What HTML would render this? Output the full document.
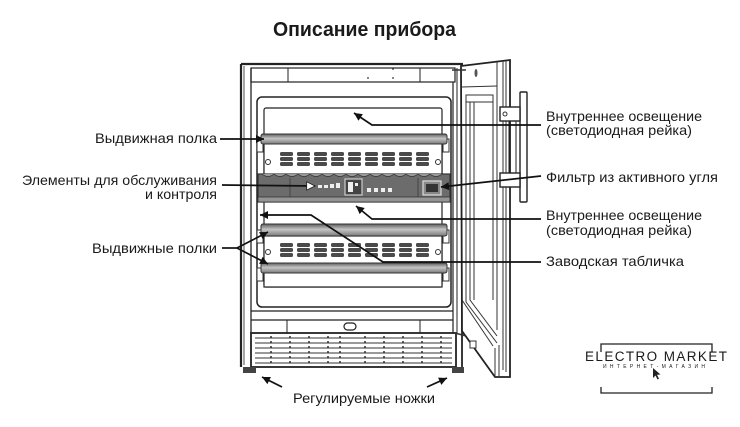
<!DOCTYPE html>
<html><head><meta charset="utf-8"><style>
html,body{margin:0;padding:0;background:#fff;}
svg{display:block;}
text{font-family:"Liberation Sans","DejaVu Sans",sans-serif;fill:#1a1a1a;}
</style></head><body>
<svg width="740" height="427" viewBox="0 0 740 427" xmlns="http://www.w3.org/2000/svg">
<defs>
<linearGradient id="bar" x1="0" y1="0" x2="0" y2="1">
<stop offset="0" stop-color="#5e5e5e"/><stop offset="0.45" stop-color="#c4c4c4"/><stop offset="1" stop-color="#7a7a7a"/>
</linearGradient>
<marker id="a" viewBox="0 0 10 10" refX="10" refY="5" markerWidth="11" markerHeight="8" markerUnits="userSpaceOnUse" orient="auto">
<path d="M0,0 L10,5 L0,10 z" fill="#111"/></marker>
<marker id="w" viewBox="0 0 12 12" refX="11" refY="6" markerWidth="12" markerHeight="10" markerUnits="userSpaceOnUse" orient="auto">
<path d="M1,1 L11,6 L1,11 z" fill="#fff" stroke="#222" stroke-width="1"/></marker>
<g id="vents" fill="#4a4a4a">
<rect x="280" y="152" width="13" height="4" rx="1.5"/><rect x="280" y="157" width="13" height="4" rx="1.5"/><rect x="280" y="162" width="13" height="4" rx="1.5"/>
<rect x="297" y="152" width="13" height="4" rx="1.5"/><rect x="297" y="157" width="13" height="4" rx="1.5"/><rect x="297" y="162" width="13" height="4" rx="1.5"/>
<rect x="314" y="152" width="13" height="4" rx="1.5"/><rect x="314" y="157" width="13" height="4" rx="1.5"/><rect x="314" y="162" width="13" height="4" rx="1.5"/>
<rect x="331" y="152" width="13" height="4" rx="1.5"/><rect x="331" y="157" width="13" height="4" rx="1.5"/><rect x="331" y="162" width="13" height="4" rx="1.5"/>
<rect x="348" y="152" width="13" height="4" rx="1.5"/><rect x="348" y="157" width="13" height="4" rx="1.5"/><rect x="348" y="162" width="13" height="4" rx="1.5"/>
<rect x="365" y="152" width="13" height="4" rx="1.5"/><rect x="365" y="157" width="13" height="4" rx="1.5"/><rect x="365" y="162" width="13" height="4" rx="1.5"/>
<rect x="382" y="152" width="13" height="4" rx="1.5"/><rect x="382" y="157" width="13" height="4" rx="1.5"/><rect x="382" y="162" width="13" height="4" rx="1.5"/>
<rect x="399" y="152" width="13" height="4" rx="1.5"/><rect x="399" y="157" width="13" height="4" rx="1.5"/><rect x="399" y="162" width="13" height="4" rx="1.5"/>
<rect x="416" y="152" width="13" height="4" rx="1.5"/><rect x="416" y="157" width="13" height="4" rx="1.5"/><rect x="416" y="162" width="13" height="4" rx="1.5"/>
</g>
</defs>
<rect width="740" height="427" fill="#fff"/>

<text x="273" y="36" font-size="20" font-weight="bold" textLength="183" lengthAdjust="spacingAndGlyphs">Описание прибора</text>

<g fill="none" stroke="#222">
<line x1="241" y1="64" x2="463" y2="64" stroke-width="2.2"/>
<line x1="241" y1="64" x2="241" y2="367" stroke-width="2.2"/>
<line x1="244" y1="66" x2="244" y2="365" stroke-width="0.8"/>
<line x1="251" y1="68" x2="251" y2="333" stroke-width="1.3"/>
<rect x="251" y="68" width="204" height="14" stroke-width="1.2"/>
<line x1="288" y1="68" x2="288" y2="82" stroke-width="1"/>
<line x1="420" y1="68" x2="420" y2="82" stroke-width="1"/>
<line x1="453" y1="82" x2="453" y2="333" stroke-width="1.2"/>
<line x1="457" y1="68" x2="457" y2="333" stroke-width="1"/>
<line x1="462" y1="64" x2="462" y2="367" stroke-width="1.8"/>
<rect x="257" y="97" width="194" height="210" rx="5" stroke-width="1.5"/>
<rect x="264" y="108" width="178" height="179" rx="2" stroke-width="1.2"/>
<line x1="251" y1="311" x2="453" y2="311" stroke-width="1.2"/>
<line x1="251" y1="320" x2="453" y2="320" stroke-width="1.2"/>
<line x1="287" y1="320" x2="287" y2="333" stroke-width="1"/>
<line x1="420" y1="320" x2="420" y2="333" stroke-width="1"/>
<rect x="344" y="323" width="12" height="7" rx="3.5" stroke-width="1.2"/>
</g>
<g fill="#333"><circle cx="368" cy="78" r="0.9"/><circle cx="393" cy="69" r="0.9"/><circle cx="393" cy="78" r="0.9"/></g>

<rect x="264" y="143" width="178" height="32" fill="#fff" stroke="#222" stroke-width="1.2"/>
<use href="#vents"/>
<circle cx="268" cy="162" r="2.5" fill="#fff" stroke="#333"/>
<circle cx="438" cy="162" r="2.5" fill="#fff" stroke="#333"/>
<rect x="257" y="139" width="6" height="13" fill="#fff" stroke="#333"/>
<rect x="443" y="139" width="6" height="13" fill="#fff" stroke="#333"/>
<rect x="261" y="134" width="186" height="10" rx="2" fill="url(#bar)" stroke="#333" stroke-width="1"/>

<rect x="258" y="174" width="192" height="28" fill="#6c6c6c" stroke="#333" stroke-width="1.2"/>
<path d="M262,174 q6,5 12,0 q6,5 12,0 q6,5 12,0 q6,5 12,0 q6,5 12,0 q6,5 12,0 q6,5 12,0 q6,5 12,0 q6,5 12,0 q6,5 12,0 q6,5 12,0 q6,5 12,0 q6,5 12,0 q6,5 12,0 q6,5 12,0" fill="#999" stroke="#333" stroke-width="0.8"/>
<rect x="258" y="197" width="192" height="5" fill="#959595" stroke="#333" stroke-width="0.8"/>
<line x1="290" y1="178" x2="290" y2="197" stroke="#444"/>
<line x1="418" y1="178" x2="418" y2="197" stroke="#444"/>
<g fill="#eee"><rect x="318" y="185" width="4" height="3"/><rect x="324" y="185" width="4" height="3"/><rect x="330" y="184" width="4" height="4"/><rect x="336" y="183" width="4" height="5"/>
<rect x="367" y="188" width="4" height="4"/><rect x="374" y="188" width="4" height="4"/><rect x="381" y="188" width="4" height="4"/><rect x="388" y="188" width="4" height="4"/></g>
<rect x="345" y="179" width="17" height="16" fill="#444" stroke="#ccc" stroke-width="1.2"/>
<rect x="348" y="182" width="5" height="10" fill="#eee"/><rect x="355" y="183" width="3" height="3" fill="#eee"/>
<rect x="423" y="181" width="18" height="14" fill="#888" stroke="#ddd" stroke-width="1.2"/>
<rect x="426" y="184" width="12" height="8" fill="#333"/>

<rect x="264" y="236" width="178" height="28" fill="#fff" stroke="#222" stroke-width="1.2"/>
<use href="#vents" y="91"/>
<circle cx="268" cy="252" r="2.5" fill="#fff" stroke="#333"/>
<circle cx="438" cy="252" r="2.5" fill="#fff" stroke="#333"/>
<rect x="257" y="230" width="6" height="13" fill="#fff" stroke="#333"/>
<rect x="443" y="230" width="6" height="13" fill="#fff" stroke="#333"/>
<rect x="261" y="224" width="186" height="12" rx="2" fill="url(#bar)" stroke="#333" stroke-width="1"/>
<rect x="264" y="272" width="178" height="15" fill="#fff" stroke="#222" stroke-width="1.2"/>
<rect x="257" y="268" width="6" height="13" fill="#fff" stroke="#333"/>
<rect x="443" y="268" width="6" height="13" fill="#fff" stroke="#333"/>
<rect x="261" y="263" width="186" height="10" rx="2" fill="url(#bar)" stroke="#333" stroke-width="1"/>

<rect x="251" y="333" width="205" height="34" fill="#fff" stroke="#222" stroke-width="1.8"/>
<g stroke="#333" stroke-width="1">
<line x1="255" y1="338" x2="452" y2="338"/><line x1="255" y1="343" x2="452" y2="343"/><line x1="255" y1="348" x2="452" y2="348"/>
<line x1="255" y1="353" x2="452" y2="353"/><line x1="255" y1="358" x2="452" y2="358"/><line x1="255" y1="363" x2="452" y2="363"/>
</g>
<g stroke="#222" stroke-width="1.4" stroke-dasharray="2,3">
<line x1="271" y1="336" x2="271" y2="365"/><line x1="290" y1="336" x2="290" y2="365"/><line x1="309" y1="336" x2="309" y2="365"/>
<line x1="328" y1="336" x2="328" y2="365"/><line x1="340" y1="336" x2="340" y2="365"/><line x1="365" y1="336" x2="365" y2="365"/>
<line x1="384" y1="336" x2="384" y2="365"/><line x1="403" y1="336" x2="403" y2="365"/><line x1="422" y1="336" x2="422" y2="365"/>
<line x1="441" y1="336" x2="441" y2="365"/>
</g>
<rect x="243" y="367" width="13" height="6" fill="#444"/>
<rect x="452" y="367" width="12" height="6" fill="#444"/>

<polygon points="461,66 510,60 510,377 495,377 462,331" fill="#fff" stroke="#222" stroke-width="1.8"/>
<g fill="none" stroke="#333" stroke-width="1">
<line x1="462" y1="87" x2="497" y2="86"/>
<rect x="466" y="95" width="27" height="7"/>
<line x1="466" y1="95" x2="466" y2="302"/>
<line x1="470" y1="102" x2="470" y2="300"/>
<line x1="474" y1="102" x2="474" y2="300"/>
<line x1="493" y1="102" x2="493" y2="300"/>
<line x1="497" y1="62" x2="497" y2="330"/>
<line x1="503" y1="61" x2="503" y2="370"/>
<line x1="506" y1="61" x2="506" y2="372"/>
<line x1="462" y1="300" x2="493" y2="346"/>
<line x1="466" y1="302" x2="497" y2="343"/>
<line x1="470" y1="300" x2="497" y2="336"/>
<line x1="495" y1="348" x2="495" y2="377"/>
<line x1="499" y1="345" x2="499" y2="377"/>
</g>
<ellipse cx="476" cy="73" rx="1.5" ry="4" fill="#555"/>
<line x1="452" y1="70" x2="466" y2="70" stroke="#333" stroke-width="1.5"/>
<rect x="470" y="341" width="6" height="7" fill="#fff" stroke="#333"/>
<line x1="455" y1="333" x2="466" y2="336" stroke="#333" stroke-width="1.5"/>
<g fill="#fff" stroke="#222" stroke-width="1.4">
<line x1="509" y1="121" x2="509" y2="173" stroke-width="1"/>
<line x1="516" y1="121" x2="516" y2="173" stroke-width="1"/>
<rect x="520" y="92" width="7" height="110" rx="1"/>
<rect x="500" y="107" width="20" height="14"/>
<rect x="500" y="173" width="20" height="14"/>
</g>
<circle cx="505" cy="114" r="2" fill="#fff" stroke="#333"/>

<g fill="none" stroke="#111" stroke-width="1.7">
<line x1="220" y1="139" x2="264" y2="139" marker-end="url(#a)"/>
<line x1="222" y1="185" x2="315" y2="186" marker-end="url(#w)"/>
<line x1="222" y1="248" x2="237" y2="248"/>
<line x1="237" y1="248" x2="268" y2="232" marker-end="url(#a)"/>
<line x1="237" y1="248" x2="268" y2="264" marker-end="url(#a)"/>
<polyline points="541,125 372,125 354,113" marker-end="url(#a)"/>
<line x1="541" y1="176" x2="441" y2="187" marker-end="url(#a)"/>
<polyline points="541,219 372,219 356,206" marker-end="url(#a)"/>
<polyline points="541,262 383,262 311,215 260,215" marker-end="url(#a)"/>
<line x1="282" y1="387" x2="262" y2="377" marker-end="url(#a)"/>
<line x1="427" y1="387" x2="447" y2="378" marker-end="url(#a)"/>
</g>

<g font-size="14">
<text x="95" y="143" textLength="122" lengthAdjust="spacingAndGlyphs">Выдвижная полка</text>
<text x="22" y="185" textLength="195" lengthAdjust="spacingAndGlyphs">Элементы для обслуживания</text>
<text x="145" y="199" textLength="72" lengthAdjust="spacingAndGlyphs">и контроля</text>
<text x="92" y="253" textLength="125" lengthAdjust="spacingAndGlyphs">Выдвижные полки</text>
<text x="546" y="121" textLength="156" lengthAdjust="spacingAndGlyphs">Внутреннее освещение</text>
<text x="546" y="135" textLength="146" lengthAdjust="spacingAndGlyphs">(светодиодная рейка)</text>
<text x="546" y="182" textLength="172" lengthAdjust="spacingAndGlyphs">Фильтр из активного угля</text>
<text x="546" y="220" textLength="156" lengthAdjust="spacingAndGlyphs">Внутреннее освещение</text>
<text x="546" y="235" textLength="146" lengthAdjust="spacingAndGlyphs">(светодиодная рейка)</text>
<text x="546" y="266" textLength="138" lengthAdjust="spacingAndGlyphs">Заводская табличка</text>
<text x="293" y="403" textLength="142" lengthAdjust="spacingAndGlyphs">Регулируемые ножки</text>
</g>

<g fill="none" stroke="#222" stroke-width="1.3">
<polyline points="601,352 601,344 712,344 712,352"/>
<polyline points="601,387 601,393 712,393 712,387"/>
</g>
<text x="585" y="361" font-size="13.5" textLength="142" lengthAdjust="spacing">ELECTRO MARKET</text>
<text x="603" y="368" font-size="5" fill="#444" textLength="102" lengthAdjust="spacing">ИНТЕРНЕТ-МАГАЗИН</text>
<path d="M653,368 L653,378 L655.5,375.5 L657.5,379.5 L659,378.8 L657,374.8 L660.5,374.5 z" fill="#222"/>
</svg>
</body></html>
